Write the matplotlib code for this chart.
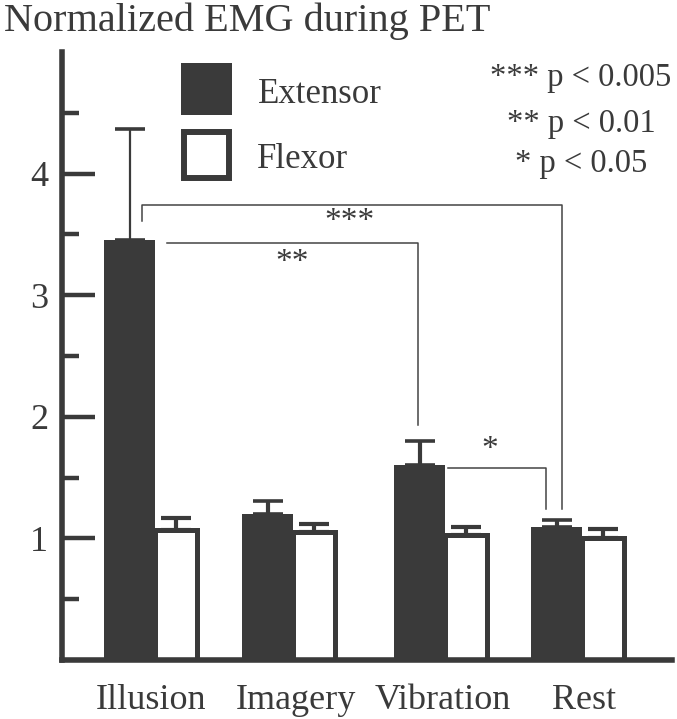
import matplotlib
matplotlib.use("Agg")
import matplotlib.pyplot as plt
from matplotlib.patches import Rectangle

plt.rcParams['font.family'] = ['Liberation Serif', 'DejaVu Serif']

# data
categories = ['Illusion', 'Imagery', 'Vibration', 'Rest']
extensor = [3.45, 1.20, 1.60, 1.09]
extensor_err = [0.92, 0.11, 0.20, 0.06]
flexor = [1.07, 1.05, 1.03, 1.00]
flexor_err = [0.10, 0.07, 0.06, 0.08]
series_names = ['Extensor', 'Flexor']
sig_labels = ['*** p < 0.005', '** p < 0.01', '* p < 0.05']

dark = '#3a3a3a'
W, H = 677, 719


def fx(px):
    return px / W


def fy(py):
    return 1 - py / H


fig = plt.figure(figsize=(W / 100, H / 100), dpi=100)
ax = fig.add_axes([62 / W, 59 / H, 610 / W, 608 / H])

# x layout in pixel-like units (groups are not evenly spaced in the original)
split = [155, 293, 445, 582]
label_x = [151, 296, 443, 584]
w_ext, w_flx = 51, 42

for i in range(len(categories)):
    xe = split[i] - w_ext / 2
    xf = split[i] + w_flx / 2
    ax.bar(xe, extensor[i], width=w_ext, color=dark, edgecolor='none', zorder=2)
    ax.bar(xf, flexor[i], width=w_flx, color='white', edgecolor=dark,
           linewidth=3.6, zorder=2)
    lw_e = 1.6 if i == 0 else 3.0
    ax.errorbar(xe, extensor[i], yerr=[[0], [extensor_err[i]]], fmt='none',
                ecolor=dark, elinewidth=lw_e, capsize=11, capthick=2.6, zorder=1)
    ax.errorbar(xf, flexor[i], yerr=[[0], [flexor_err[i]]], fmt='none',
                ecolor=dark, elinewidth=3.0, capsize=11, capthick=3.0, zorder=1)

# significance brackets
lc = '#444444'
ax.plot([142, 142, 562, 562], [3.61, 3.74, 3.74, 1.24], color=lc, lw=1.1)
ax.plot([167, 418, 418], [3.43, 3.43, 1.93], color=lc, lw=1.1)
ax.plot([448, 546, 546], [1.58, 1.58, 1.24], color=lc, lw=1.1)
ax.text(350, 3.60, '***', ha='center', va='center', fontsize=24, color=dark)
ax.text(292, 3.27, '**', ha='center', va='center', fontsize=24, color=dark)
ax.text(490, 1.73, '*', ha='center', va='center', fontsize=24, color=dark)

ax.set_xlim(62, 672)
ax.set_ylim(0, 5)
for s in ['top', 'right']:
    ax.spines[s].set_visible(False)
for s in ['left', 'bottom']:
    ax.spines[s].set_linewidth(4.0)
    ax.spines[s].set_color(dark)
    ax.spines[s].set_zorder(3)

ax.set_yticks([1, 2, 3, 4])
ax.set_yticks([0.5, 1.5, 2.5, 3.5, 4.5], minor=True)
ax.tick_params(axis='y', which='major', direction='in', length=24, width=3.2,
               color=dark, labelsize=26, pad=10, labelcolor=dark)
ax.tick_params(axis='y', which='minor', direction='in', length=12, width=3.2,
               color=dark)
ax.set_xticks(label_x)
ax.set_xticklabels(categories)
ax.tick_params(axis='x', length=0, labelsize=26, pad=17, labelcolor=dark)

# legend drawn by hand so the swatches are square
fig.add_artist(Rectangle((fx(181), fy(115)), fx(51), 52 / H, transform=fig.transFigure,
                         facecolor=dark, edgecolor='none'))
fig.add_artist(Rectangle((fx(184), fy(178)), fx(45), 46 / H, transform=fig.transFigure,
                         facecolor='white', edgecolor=dark, linewidth=4.3))
fig.text(fx(258), fy(103), series_names[0], ha='left', va='baseline',
         fontsize=25, color=dark)
fig.text(fx(257), fy(168), series_names[1], ha='left', va='baseline',
         fontsize=25, color=dark)

for lab, yy in zip(sig_labels, [78, 124, 164]):
    fig.text(fx(581), fy(yy), lab, ha='center', va='center',
             fontsize=23.5, color=dark)

fig.text(fx(4), fy(2), 'Normalized EMG during PET', ha='left', va='top',
         fontsize=29, color=dark)

fig.savefig('out.png', dpi=100)
